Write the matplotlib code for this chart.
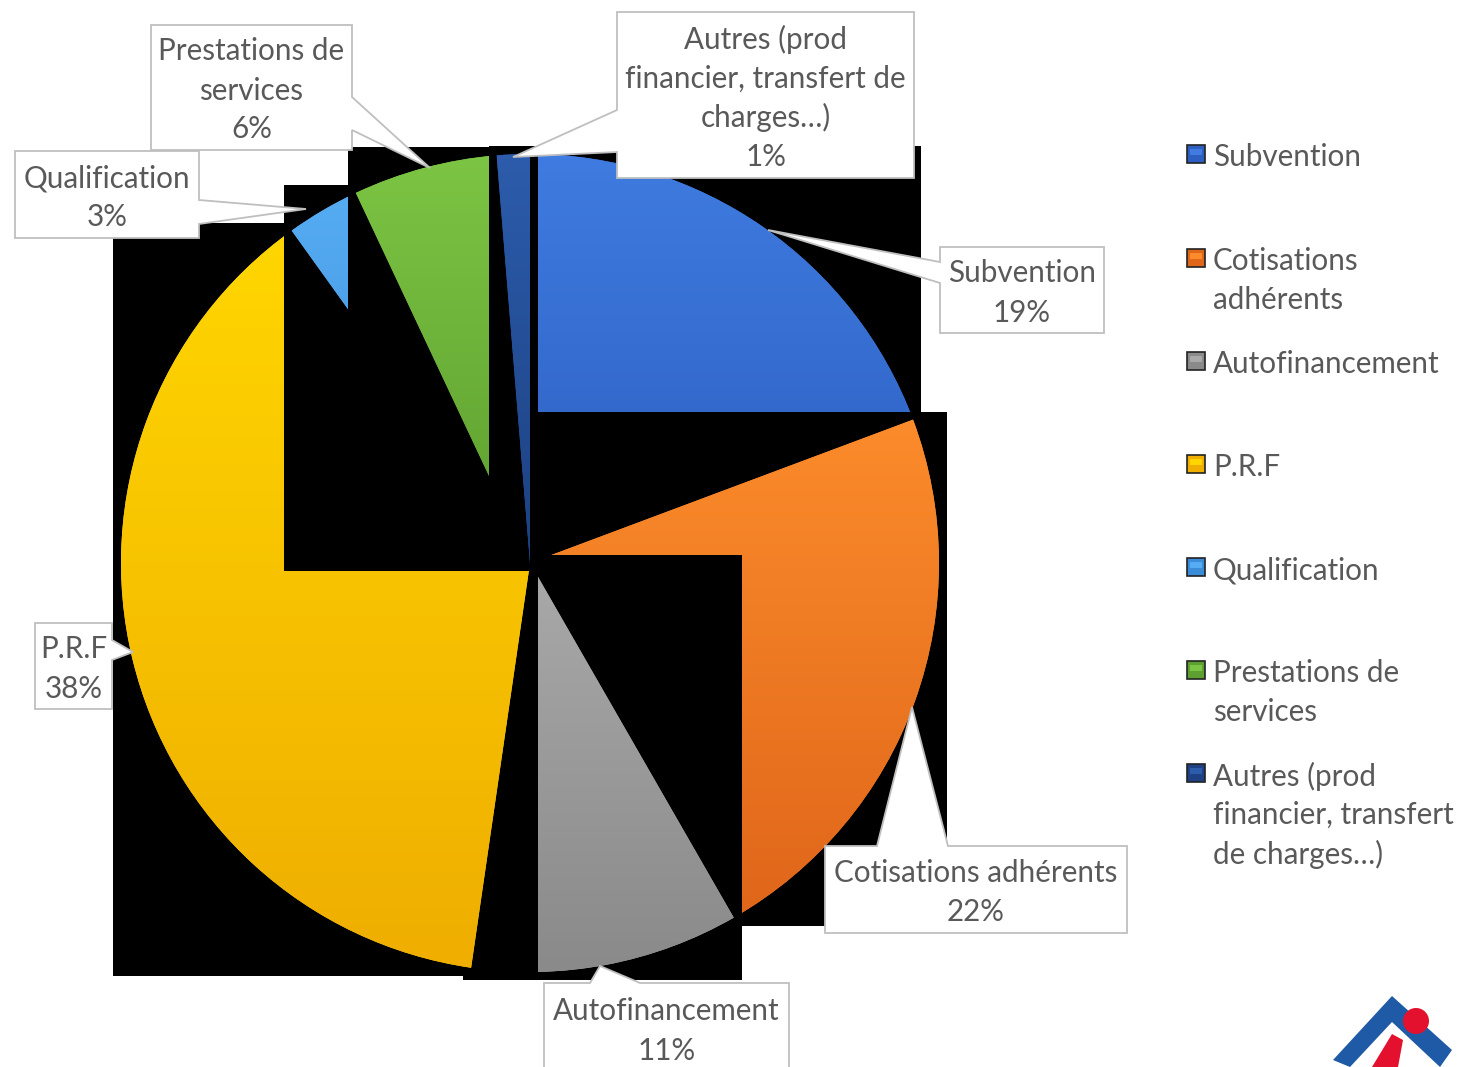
import numpy as np
import matplotlib
matplotlib.use("Agg")
import matplotlib.pyplot as plt
from matplotlib.patches import Rectangle, Polygon, Circle
from matplotlib.colors import LinearSegmentedColormap

# data (percent of resources)
categories = ["Subvention", "Cotisations adhérents", "Autofinancement", "P.R.F",
              "Qualification", "Prestations de services",
              "Autres (prod financier, transfert de charges…)"]
shares = [19.3, 22.4, 10.6, 37.8, 2.9, 5.7, 1.3]

# label texts as wrapped in the chart
slice_labels = ["Subvention", "Cotisations adhérents", "Autofinancement", "P.R.F",
                "Qualification", "Prestations de\nservices",
                "Autres (prod\nfinancier, transfert de\ncharges…)"]
legend_labels = ["Subvention", "Cotisations\nadhérents", "Autofinancement", "P.R.F",
                 "Qualification", "Prestations de\nservices",
                 "Autres (prod\nfinancier, transfert\nde charges…)"]

# (top, bottom) gradient colours per slice
grad_top = ["#3f7be0", "#fb8b2b", "#a9a9a9", "#ffd600", "#56acf2", "#7cc443", "#2c5cab"]
grad_bot = ["#2d5fc0", "#e0661a", "#8a8a8a", "#efae00", "#3b8cd8", "#5d9f30", "#1d4182"]

W, H = 1458, 1067
TXT = "#595959"
EDGE = "#bfbfbf"
FONT = ["Lato", "DejaVu Sans"]
FS = 21.3
STEP = 39  # line step in px
DY = 3     # small downward nudge of text


def Y(y):
    return H - y


fig = plt.figure(figsize=(W / 100, H / 100), dpi=100)
ax = fig.add_axes([0, 0, 1, 1])

cx, cy, R = 530, Y(563), 409
wedges, _ = ax.pie(shares, colors=grad_top, startangle=90, counterclock=False,
                   center=(cx, cy), radius=R, frame=True,
                   wedgeprops=dict(linewidth=0))

# each slice sits on its own black bounding box, later slices on top
for i, w in enumerate(wedges):
    t = np.radians(np.linspace(w.theta1, w.theta2, 200))
    xs = np.append(cx + R * np.cos(t), cx)
    ys = np.append(cy + R * np.sin(t), cy)
    pad = 8
    x0, x1 = xs.min() - pad, xs.max() + pad
    y0, y1 = ys.min() - pad, ys.max() + pad
    ax.add_patch(Rectangle((x0, y0), x1 - x0, y1 - y0, facecolor="black",
                           edgecolor="none", zorder=10 + 3 * i))
    w.set_zorder(11 + 3 * i)
    cmap = LinearSegmentedColormap.from_list("g%d" % i, [grad_bot[i], grad_top[i]])
    im = ax.imshow(np.linspace(0, 1, 64).reshape(-1, 1), cmap=cmap, origin="lower",
                   extent=(xs.min(), xs.max(), ys.min(), ys.max()),
                   aspect="auto", zorder=12 + 3 * i, interpolation="bilinear")
    im.set_clip_path(w)


def multiline(x, y, text, ha="center", zorder=50):
    lines = text.split("\n")
    n = len(lines)
    for k, ln in enumerate(lines):
        yy = y + (n - 1) * STEP / 2 - k * STEP if ha == "center" else y - k * STEP
        ax.text(x, yy - DY, ln, ha=ha, va="center", color=TXT, fontsize=FS,
                family=FONT, zorder=zorder)


def callout(box, side, base, tip):
    # box: (left, top, right, bottom) in px; pointer on one side
    l, t, r, b = box
    if side == "right":
        pts = [(l, t), (r, t), (r, base[0]), tip, (r, base[1]), (r, b), (l, b)]
    elif side == "left":
        pts = [(l, t), (r, t), (r, b), (l, b), (l, base[1]), tip, (l, base[0])]
    else:  # top
        pts = [(l, t), (base[0], t), tip, (base[1], t), (r, t), (r, b), (l, b)]
    ax.add_patch(Polygon([(px, Y(py)) for px, py in pts], closed=True,
                         facecolor="white", edgecolor=EDGE, linewidth=1.3, zorder=40))


# label callouts (box, pointer side, pointer base, tip)
label_layout = [
    ((940, 247, 1104, 333), "left", (262, 283), (768, 230)),
    ((825, 846, 1127, 933), "top", (877, 948), (912, 707)),
    ((544, 983, 789, 1090), "top", (590, 640), (600, 966)),
    ((35, 623, 112, 709), "right", (640, 660), (133, 652)),
    ((15, 151, 199, 238), "right", (200, 224), (306, 209)),
    ((151, 25, 352, 150), "right", (97, 130), (430, 168)),
    ((617, 12, 914, 178), "left", (110, 152), (513, 157)),
]
for lab, val, (box, side, base, tip) in zip(slice_labels, shares, label_layout):
    callout(box, side, base, tip)
    l, t, r, b = box
    bcy = (t + b) / 2 if b < H else t + 45
    multiline((l + r) / 2, Y(bcy), lab + "\n%d%%" % round(val))

# legend
leg_y = [154, 258, 361, 464, 567, 670, 773]
for lab, c1, c2, yy in zip(legend_labels, grad_top, grad_bot, leg_y):
    ax.add_patch(Rectangle((1187, Y(yy) - 9), 18, 18, facecolor=c2,
                           edgecolor="#222222", linewidth=1.2, zorder=30))
    ax.add_patch(Rectangle((1190, Y(yy) - 1), 12, 6, facecolor=c1,
                           edgecolor="none", zorder=31))
    multiline(1213, Y(yy), lab, ha="left")

# logo (partly cut at the bottom edge)
ax.add_patch(Polygon([(1333, Y(1060)), (1392, Y(996)), (1452, Y(1050)),
                      (1440, Y(1067)), (1392, Y(1022)), (1350, Y(1067))],
                     closed=True, facecolor="#1f5aa6", edgecolor="none", zorder=60))
ax.add_patch(Circle((1416, Y(1021)), 13, facecolor="#e3102e", edgecolor="none", zorder=61))
ax.add_patch(Polygon([(1372, Y(1067)), (1392, Y(1034)), (1403, Y(1040)), (1398, Y(1067))],
                     closed=True, facecolor="#e3102e", edgecolor="none", zorder=61))

ax.set_xlim(0, W)
ax.set_ylim(0, H)
ax.set_aspect("equal")
ax.axis("off")

fig.savefig("out.png", dpi=100, facecolor="white")
